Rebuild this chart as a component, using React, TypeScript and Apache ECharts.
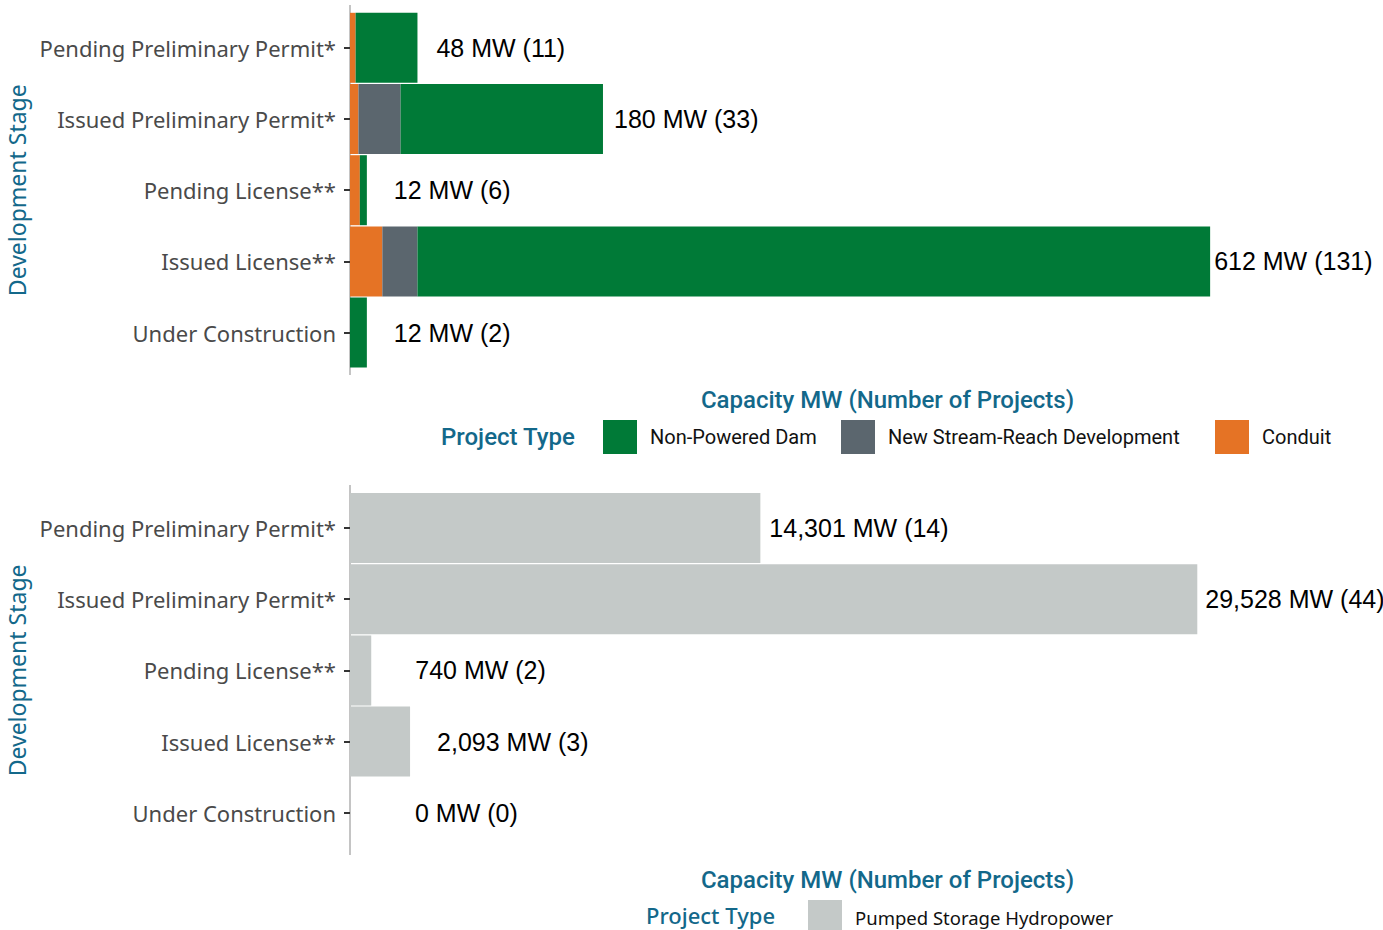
import React, { useEffect, useRef } from "react";
import * as echarts from "echarts";

const stages = [
  "Pending Preliminary Permit*",
  "Issued Preliminary Permit*",
  "Pending License**",
  "Issued License**",
  "Under Construction",
];

// Top panel (MW), stacked left to right: Conduit, New Stream-Reach, Non-Powered Dam
const conduitMW = [4, 6, 7, 23, 0];
const streamReachMW = [0, 30, 0, 25, 0];
const nonPoweredDamMW = [44, 144, 5, 564, 12];
const topCounts = [11, 33, 6, 131, 2];

// Bottom panel (MW)
const pumpedStorageMW = [14301, 29528, 740, 2093, 0];
const bottomCounts = [14, 44, 2, 3, 0];

const topLabelGap = [19, 11, 27, 4, 27];
const bottomLabelGap = [9, 8, 44, 27, 65];

const TEAL = "#13688a";
const GREEN = "#007a37";
const SLATE = "#5b666e";
const ORANGE = "#e57325";
const LIGHT = "#c4c9c8";

const fmt = (n: number) => n.toLocaleString("en-US");

export default function App() {
  const ref = useRef<HTMLDivElement>(null);

  useEffect(() => {
    document.body.style.margin = "0";
    if (!ref.current) return;
    const chart = echarts.init(ref.current, null, { renderer: "svg" });

    const topTotals = stages.map(
      (_, i) => conduitMW[i] + streamReachMW[i] + nonPoweredDamMW[i]
    );

    const valueLabel = {
      show: true,
      position: "right",
      color: "#000",
      fontFamily: "Liberation Sans, Arial, sans-serif",
      fontSize: 25,
    };

    const yAxisBase = (gridIndex: number) => ({
      type: "category",
      gridIndex,
      data: stages,
      inverse: true,
      name: "Development Stage",
      nameLocation: "middle",
      nameRotate: 90,
      nameGap: 312,
      nameTextStyle: {
        color: TEAL,
        fontSize: 23,
        fontFamily: "Noto Sans, sans-serif",
      },
      axisLine: { show: false },
      axisTick: {
        show: true,
        alignWithLabel: true,
        length: 6,
        lineStyle: { color: "#333", width: 2 },
      },
      axisLabel: {
        color: "#4a4a4a",
        fontSize: 22,
        margin: 14,
        fontFamily: "Noto Sans, sans-serif",
      },
    });

    const xAxisBase = (gridIndex: number, max: number) => ({
      type: "value",
      gridIndex,
      min: 0,
      max,
      name: "Capacity MW (Number of Projects)",
      nameLocation: "middle",
      nameGap: 20,
      nameTextStyle: {
        color: TEAL,
        fontSize: 24,
        fontWeight: 500,
        fontFamily: "Roboto, sans-serif",
        padding: [0, 0, 0, 42],
      },
      axisLine: { show: false },
      axisTick: { show: false },
      axisLabel: { show: false },
      splitLine: { show: false },
    });

    const legendText = {
      color: "#111",
      fontSize: 20,
      fontFamily: "Roboto, sans-serif",
      padding: [0, 0, 0, 8],
    };
    const legendBase = (name: string, left: number, top: number, extra = {}) => ({
      data: [name],
      left,
      top,
      padding: 0,
      itemWidth: 34,
      itemHeight: 34,
      icon: "rect",
      selectedMode: false,
      textStyle: { ...legendText, ...extra },
    });

    chart.setOption({
      animation: false,
      backgroundColor: "#fff",
      grid: [
        { left: 350, top: 12.2, width: 1033, height: 356, outerBoundsMode: "none", containLabel: false },
        { left: 350, top: 492.4, width: 1033, height: 356, outerBoundsMode: "none", containLabel: false },
      ],
      xAxis: [xAxisBase(0, 735), xAxisBase(1, 36000)],
      yAxis: [yAxisBase(0), yAxisBase(1)],
      legend: [
        legendBase("Non-Powered Dam", 603, 420),
        legendBase("New Stream-Reach Development", 841, 420),
        legendBase("Conduit", 1215, 420),
        legendBase("Pumped Storage Hydropower", 808, 900, {
          fontFamily: "Noto Sans, sans-serif",
          fontSize: 18.5,
          padding: [0, 0, 0, 8],
        }),
      ],
      graphic: [
        {
          type: "line",
          shape: { x1: 350, y1: 5, x2: 350, y2: 375 },
          style: { stroke: "#c4c4c4", lineWidth: 2 },
        },
        {
          type: "line",
          shape: { x1: 350, y1: 485, x2: 350, y2: 855 },
          style: { stroke: "#c4c4c4", lineWidth: 2 },
        },
        {
          type: "text",
          x: 441,
          y: 437,
          style: {
            text: "Project Type",
            fill: TEAL,
            fontSize: 24,
            fontWeight: 500,
            fontFamily: "Roboto, sans-serif",
            verticalAlign: "middle",
          },
        },
        {
          type: "text",
          x: 646,
          y: 915,
          style: {
            text: "Project Type",
            fill: TEAL,
            fontSize: 22,
            fontWeight: 500,
            fontFamily: "Noto Sans, sans-serif",
            verticalAlign: "middle",
          },
        },
      ],
      series: [
        {
          name: "Conduit",
          type: "bar",
          stack: "top",
          xAxisIndex: 0,
          yAxisIndex: 0,
          barWidth: 70,
          itemStyle: { color: ORANGE },
          data: conduitMW,
        },
        {
          name: "New Stream-Reach Development",
          type: "bar",
          stack: "top",
          xAxisIndex: 0,
          yAxisIndex: 0,
          barWidth: 70,
          itemStyle: { color: SLATE },
          data: streamReachMW,
        },
        {
          name: "Non-Powered Dam",
          type: "bar",
          stack: "top",
          xAxisIndex: 0,
          yAxisIndex: 0,
          barWidth: 70,
          itemStyle: { color: GREEN },
          data: nonPoweredDamMW.map((v, i) => ({
            value: v,
            label: {
              ...valueLabel,
              distance: topLabelGap[i],
              formatter: () => `${fmt(topTotals[i])} MW (${topCounts[i]})`,
            },
          })),
        },
        {
          name: "Pumped Storage Hydropower",
          type: "bar",
          xAxisIndex: 1,
          yAxisIndex: 1,
          barWidth: 70,
          itemStyle: { color: LIGHT },
          data: pumpedStorageMW.map((v, i) => ({
            value: v,
            label: {
              ...valueLabel,
              distance: bottomLabelGap[i],
              formatter: () => `${fmt(v)} MW (${bottomCounts[i]})`,
            },
          })),
        },
      ],
    });

    return () => chart.dispose();
  }, []);

  return <div ref={ref} style={{ width: 1383, height: 930 }} />;
}
